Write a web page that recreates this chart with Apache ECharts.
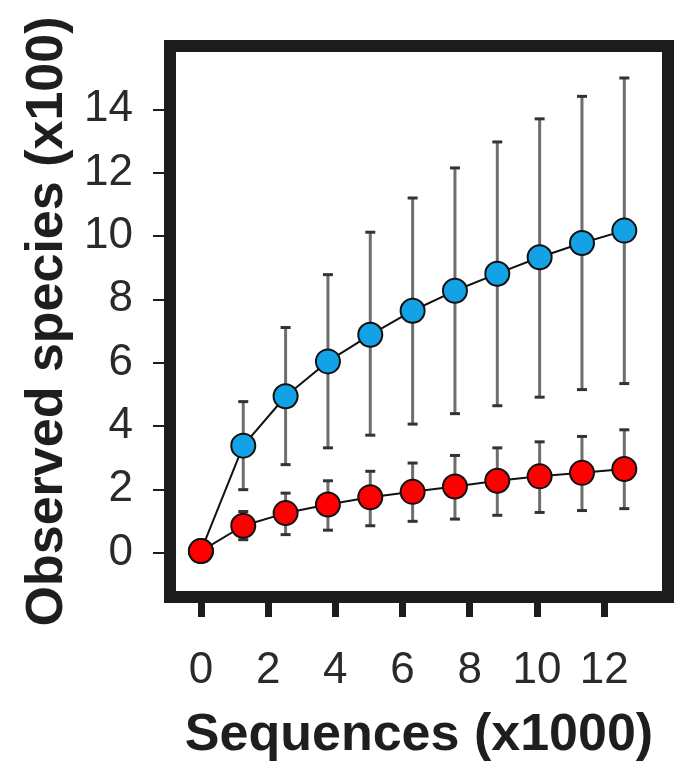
<!DOCTYPE html>
<html>
<head>
<meta charset="utf-8">
<script src="https://cdn.jsdelivr.net/npm/echarts@6/dist/echarts.min.js"></script>
<style>
  html, body { margin: 0; padding: 0; background: #fff; }
  #main { width: 674px; height: 769px; }
</style>
</head>
<body>
<div id="main"></div>
<script>
// sequences (x1000) at which the rarefaction was sampled
var sequences = [0, 1.26, 2.52, 3.78, 5.04, 6.3, 7.56, 8.82, 10.08, 11.34, 12.6];
// blue group: mean and error bar ends (x100 species)
var blueMean  = [0.05, 3.38, 4.94, 6.04, 6.88, 7.64, 8.27, 8.81, 9.33, 9.78, 10.17];
var blueUpper = [null, 4.77, 7.11, 8.78, 10.12, 11.2, 12.15, 12.97, 13.7, 14.41, 14.99];
var blueLower = [null, 1.99, 2.78, 3.31, 3.71, 4.06, 4.39, 4.64, 4.91, 5.15, 5.34];
// red group
var redMean  = [0.05, 0.85, 1.25, 1.52, 1.75, 1.92, 2.09, 2.27, 2.41, 2.52, 2.64];
var redUpper = [null, 1.3, 1.88, 2.27, 2.57, 2.83, 3.07, 3.31, 3.5, 3.67, 3.88];
var redLower = [null, 0.41, 0.57, 0.71, 0.85, 0.99, 1.06, 1.18, 1.27, 1.33, 1.39];
// tick labels
var xTicks = [0, 2, 4, 6, 8, 10, 12];
var yTicks = [0, 2, 4, 6, 8, 10, 12, 14];

function pairs(xs, ys) {
  return xs.map(function (x, i) { return [x, ys[i]]; });
}
function errData(lo, hi) {
  var out = [];
  sequences.forEach(function (x, i) {
    if (lo[i] != null) out.push([x, lo[i], hi[i]]);
  });
  return out;
}
function renderErr(params, api) {
  var top = api.coord([api.value(0), api.value(2)]);
  var bot = api.coord([api.value(0), api.value(1)]);
  var cap = 5;
  return {
    type: 'group',
    children: [
      { type: 'line', shape: { x1: top[0], y1: top[1], x2: bot[0], y2: bot[1] },
        style: { stroke: '#6e6e6e', lineWidth: 3 } },
      { type: 'line', shape: { x1: top[0] - cap, y1: top[1], x2: top[0] + cap, y2: top[1] },
        style: { stroke: '#333', lineWidth: 3 } },
      { type: 'line', shape: { x1: bot[0] - cap, y1: bot[1], x2: bot[0] + cap, y2: bot[1] },
        style: { stroke: '#333', lineWidth: 3 } }
    ]
  };
}

var chart = echarts.init(document.getElementById('main'));
var font = '"Liberation Sans", Arial, sans-serif';
chart.setOption({
  animation: false,
  grid: {
    left: 170, right: 6, top: 46, bottom: 172,
    show: true, borderColor: '#1c1c1c', borderWidth: 12, backgroundColor: '#fff'
  },
  xAxis: {
    type: 'value', min: -0.92, max: 13.9,
    splitLine: { show: false },
    axisLine: { show: false, onZero: false },
    axisTick: { show: true, customValues: xTicks, length: 20, lineStyle: { color: '#1c1c1c', width: 7 } },
    axisLabel: { customValues: xTicks, margin: 52, fontSize: 44, color: '#2a2a2a', fontFamily: font },
    name: 'Sequences (x1000)', nameLocation: 'middle', nameGap: 113,
    nameTextStyle: { fontSize: 52, fontWeight: 'bold', color: '#1e1e1e', fontFamily: font }
  },
  yAxis: {
    type: 'value', min: -1.4, max: 16,
    splitLine: { show: false },
    axisLine: { show: false, onZero: false },
    axisTick: { show: true, customValues: yTicks, length: 17, lineStyle: { color: '#1c1c1c', width: 2 } },
    axisLabel: { customValues: yTicks, margin: 37, fontSize: 44, color: '#2a2a2a', fontFamily: font },
    name: 'Observed species (x100)', nameLocation: 'middle', nameGap: 92,
    nameTextStyle: { fontSize: 52, fontWeight: 'bold', color: '#1e1e1e', fontFamily: font }
  },
  series: [
    { type: 'custom', renderItem: renderErr, data: errData(blueLower, blueUpper), z: 1 },
    { type: 'custom', renderItem: renderErr, data: errData(redLower, redUpper), z: 1 },
    {
      type: 'line', data: pairs(sequences, blueMean), z: 3,
      symbol: 'circle', symbolSize: 24,
      lineStyle: { color: '#111', width: 2 },
      itemStyle: { color: '#13a2e6', borderColor: '#111', borderWidth: 2 }
    },
    {
      type: 'line', data: pairs(sequences, redMean), z: 4,
      symbol: 'circle', symbolSize: 24,
      lineStyle: { color: '#111', width: 2 },
      itemStyle: { color: '#ff0000', borderColor: '#111', borderWidth: 2 }
    }
  ]
});
</script>
</body>
</html>
